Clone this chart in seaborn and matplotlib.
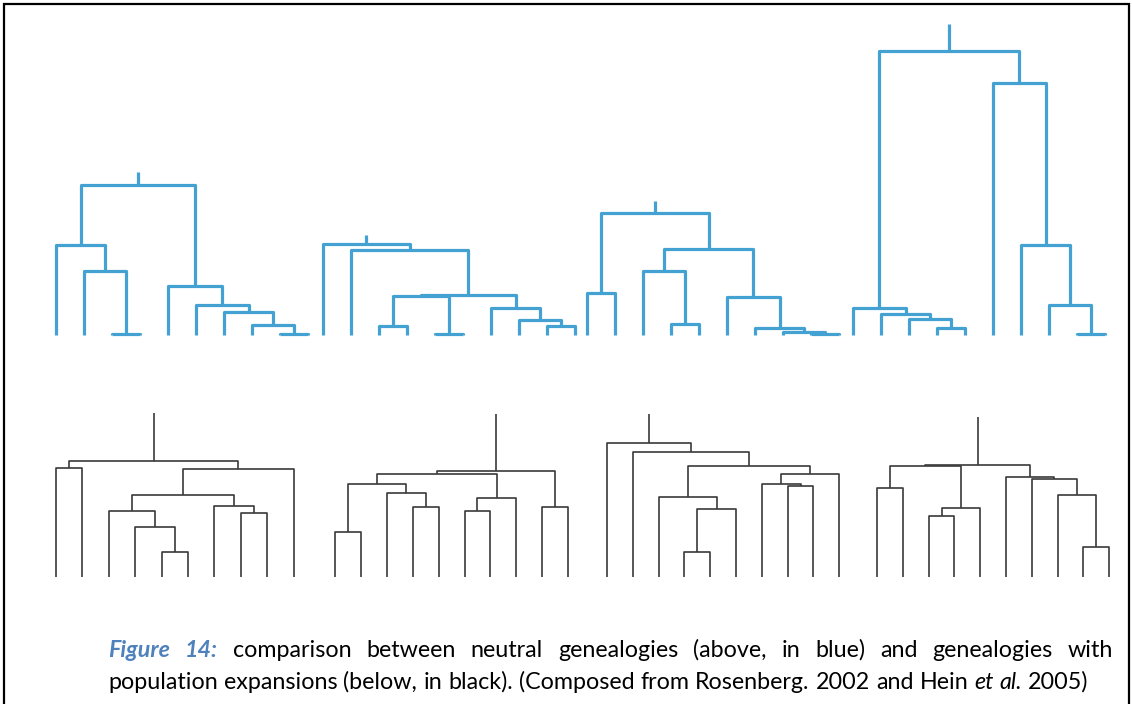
import matplotlib
matplotlib.use("Agg")
import matplotlib.pyplot as plt
import pandas as pd
import seaborn as sns

# ---------------- data: genealogies ----------------
# leaves are 0..9, merges are numbered 10, 11, ... in order; (left, right, height)
blue_tree_1 = [(2, 3, 1), (1, 10, 64), (0, 11, 90), (8, 9, 1), (7, 13, 10),
               (6, 14, 23), (5, 15, 30), (4, 16, 49), (12, 17, 150)]
blue_tree_2 = [(2, 3, 9), (4, 5, 1), (10, 11, 39), (8, 9, 9), (7, 13, 15),
               (6, 14, 27), (12, 15, 40), (1, 16, 85), (0, 17, 91)]
blue_tree_3 = [(0, 1, 42), (3, 4, 11), (2, 11, 64), (8, 9, 1), (7, 13, 3),
               (6, 14, 7), (5, 15, 38), (12, 16, 86), (10, 17, 122)]
blue_tree_4 = [(3, 4, 7), (2, 10, 16), (1, 11, 21), (0, 12, 27), (8, 9, 1),
               (7, 14, 30), (6, 15, 90), (5, 16, 252), (13, 17, 284)]
blue_stems = [13, 9, 12, 27]

black_tree_1 = [(0, 1, 109), (4, 5, 25), (3, 11, 50), (2, 12, 66), (7, 8, 64),
                (6, 14, 71), (13, 15, 82), (16, 9, 108), (10, 17, 116)]
black_tree_2 = [(0, 1, 45), (3, 4, 70), (2, 11, 84), (10, 12, 93), (5, 6, 66),
                (14, 7, 79), (13, 15, 103), (8, 9, 70), (16, 17, 106)]
black_tree_3 = [(3, 4, 25), (10, 5, 68), (2, 11, 80), (7, 8, 91), (6, 13, 93),
                (14, 9, 103), (12, 15, 111), (1, 16, 125), (0, 17, 134)]
black_tree_4 = [(0, 1, 89), (2, 3, 61), (11, 4, 69), (10, 12, 111), (8, 9, 30),
                (7, 14, 82), (6, 15, 98), (5, 16, 100), (13, 17, 112)]
black_stems = [48, 57, 29, 48]

caption_line1 = [("Figure", "fig"), ("14:", "fig"), ("comparison", ""), ("between", ""),
                 ("neutral", ""), ("genealogies", ""), ("(above,", ""), ("in", ""),
                 ("blue)", ""), ("and", ""), ("genealogies", ""), ("with", "")]
caption_line2 = [("population", ""), ("expansions", ""), ("(below,", ""), ("in", ""),
                 ("black).", ""), ("(Composed", ""), ("from", ""), ("Rosenberg.", ""),
                 ("2002", ""), ("and", ""), ("Hein", ""), ("et", "it"), ("al.", "it"),
                 ("2005)", "")]

# ---------------- layout ----------------
W, H = 1132, 704
BLUE = "#43A2D2"
DARK = "#3a3a3a"


def tree_frame(merges, stem, x0, dx, base, tag):
    xs = [x0 + i * dx for i in range(10)]
    ys = [base] * 10
    rows = []
    for k, (l, r, h) in enumerate(merges):
        y = base - h
        pts = [(xs[l], ys[l]), (xs[l], y), (xs[r], y), (xs[r], ys[r])]
        for j, (px, py) in enumerate(pts):
            rows.append(dict(x=px, y=py, unit=f"{tag}-{k}", order=j))
        xs.append((xs[l] + xs[r]) / 2)
        ys.append(y)
    rows.append(dict(x=xs[-1], y=ys[-1], unit=f"{tag}-stem", order=0))
    rows.append(dict(x=xs[-1], y=ys[-1] - stem, unit=f"{tag}-stem", order=1))
    return pd.DataFrame(rows)


sns.set_theme(style="white")
plt.rcParams["font.family"] = ["Lato", "DejaVu Sans"]

fig = plt.figure(figsize=(W / 100, H / 100), dpi=100)
ax = fig.add_axes([0, 0, 1, 1])

blue_trees = [blue_tree_1, blue_tree_2, blue_tree_3, blue_tree_4]
blue_x0 = [56, 323, 587, 853]
blue_df = pd.concat([tree_frame(t, s, x0, 28, 335, f"b{i}")
                     for i, (t, s, x0) in enumerate(zip(blue_trees, blue_stems, blue_x0))])

black_trees = [black_tree_1, black_tree_2, black_tree_3, black_tree_4]
black_x0 = [56, 335, 607, 877]
black_dx = [26.4, 25.9, 25.8, 25.8]
black_df = pd.concat([tree_frame(t, s, x0, dx, 577, f"k{i}")
                      for i, (t, s, x0, dx) in enumerate(zip(black_trees, black_stems,
                                                             black_x0, black_dx))])

sns.lineplot(data=blue_df, x="x", y="y", units="unit", estimator=None, sort=False,
             color=BLUE, lw=2.3, ax=ax, legend=False, solid_capstyle="butt")
sns.lineplot(data=black_df, x="x", y="y", units="unit", estimator=None, sort=False,
             color=DARK, lw=1.2, ax=ax, legend=False, solid_capstyle="butt")

# frame
ax.plot([4, 4, 1129, 1129], [H + 5, 4, 4, H + 5], color="black", lw=1.6,
        solid_joinstyle="miter")

ax.set_xlim(0, W)
ax.set_ylim(H, 0)
ax.axis("off")

# ---------------- caption ----------------
renderer = fig.canvas.get_renderer()


def style_kw(kind, fs):
    if kind == "fig":
        return dict(fontsize=fs, fontweight="bold", fontstyle="italic", color="#4F81BD")
    if kind == "it":
        return dict(fontsize=fs, fontstyle="italic", color="black")
    return dict(fontsize=fs, color="black")


def width_of(word, kind, fs):
    t = ax.text(0, 0, word, **style_kw(kind, fs))
    w = t.get_window_extent(renderer).width
    t.remove()
    return w


def space_width(fs):
    return width_of("a a", "", fs) - width_of("aa", "", fs)


# fit font size to line 2 width
ref_fs = 10
w2 = sum(width_of(w, k, ref_fs) for w, k in caption_line2) + space_width(ref_fs) * (len(caption_line2) - 1)
fs = ref_fs * (1090 - 108) / w2

# line 1 justified
x_left, x_right = 108, 1113
ws = [width_of(w, k, fs) for w, k in caption_line1]
gap = (x_right - x_left - sum(ws)) / (len(caption_line1) - 1)
x = x_left
for (word, kind), w in zip(caption_line1, ws):
    ax.text(x, 657, word, ha="left", va="baseline", **style_kw(kind, fs))
    x += w + gap

# line 2 left aligned
sp = space_width(fs)
x = x_left
for word, kind in caption_line2:
    ax.text(x, 689, word, ha="left", va="baseline", **style_kw(kind, fs))
    x += width_of(word, kind, fs) + sp

fig.savefig("out.png", dpi=100)
